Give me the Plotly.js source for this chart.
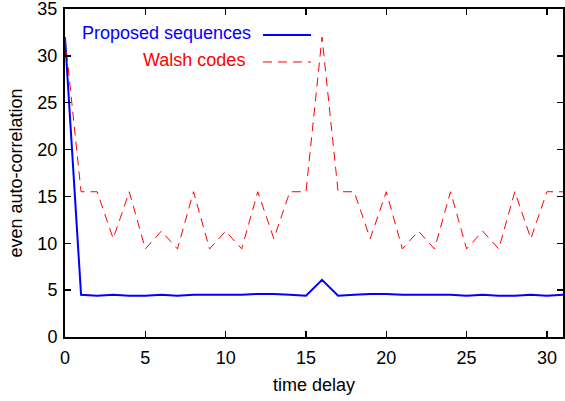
<!DOCTYPE html>
<html>
<head>
<meta charset="utf-8">
<script src="https://cdn.plot.ly/plotly-3.0.1.min.js"></script>
<style>html,body{margin:0;padding:0;background:#fff;}#chart{width:565px;height:401px;}</style>
</head>
<body>
<div id="chart"></div>
<script>
const delays = [0,1,2,3,4,5,6,7,8,9,10,11,12,13,14,15,16,17,18,19,20,21,22,23,24,25,26,27,28,29,30,31];
const proposed = [32,4.5,4.4,4.5,4.4,4.4,4.5,4.4,4.5,4.5,4.5,4.5,4.6,4.6,4.5,4.4,6.1,4.4,4.5,4.6,4.6,4.5,4.5,4.5,4.5,4.4,4.5,4.4,4.4,4.5,4.4,4.5];
const walsh = [32,15.5,15.5,10.5,15.5,9.4,11.3,9.4,15.5,9.4,11.3,9.4,15.5,10.5,15.5,15.5,32,15.5,15.5,10.5,15.5,9.4,11.3,9.4,15.5,9.4,11.3,9.4,15.5,10.5,15.5,15.5];
const seriesNames = ["Proposed sequences", "Walsh codes"];
const xTicks = [0,5,10,15,20,25,30];
const yTicks = [0,5,10,15,20,25,30,35];

const font = {family: "Liberation Sans, Arial, sans-serif", size: 18, color: "#000"};

const traces = [
  {x: delays, y: proposed, mode: "lines", name: seriesNames[0], line: {color: "#0000ff", width: 2}},
  {x: delays, y: walsh, mode: "lines", name: seriesNames[1], line: {color: "#ff0000", width: 1, dash: "9px,6px"}}
];

const axisCommon = {
  showline: true, mirror: "ticks", linecolor: "#000", linewidth: 2,
  ticks: "inside", ticklen: 6, tickwidth: 1.5, tickcolor: "#000",
  showgrid: false, zeroline: false, tickfont: font, ticklabeloverflow: "allow"
};

const layout = {
  width: 565, height: 401,
  margin: {l: 65, r: 2, t: 9, b: 64},
  paper_bgcolor: "#fff", plot_bgcolor: "#fff",
  showlegend: false,
  font: font,
  xaxis: Object.assign({}, axisCommon, {range: [0, 31], tickvals: xTicks, ticktext: xTicks.map(String),
    ticklabelstandoff: 3,
    title: {text: "time delay", font: font, standoff: 12}}),
  yaxis: Object.assign({}, axisCommon, {range: [0, 35], tickvals: yTicks, ticktext: yTicks.map(String),
    ticklabelstandoff: 2,
    title: {text: "even auto-correlation", font: font, standoff: 10}}),
  annotations: [
    {xref: "paper", yref: "paper", x: 0.3775, y: 0.927, xanchor: "right", yanchor: "middle",
     text: seriesNames[0], showarrow: false, font: {family: font.family, size: 18, color: "#0000ff"}},
    {xref: "paper", yref: "paper", x: 0.3655, y: 0.844, xanchor: "right", yanchor: "middle",
     text: seriesNames[1], showarrow: false, font: {family: font.family, size: 18, color: "#ff0000"}}
  ],
  shapes: [
    {type: "line", xref: "paper", yref: "paper", x0: 0.3976, x1: 0.494, y0: 0.921, y1: 0.921,
     line: {color: "#0000ff", width: 2}},
    {type: "line", xref: "paper", yref: "paper", x0: 0.3976, x1: 0.494, y0: 0.8385, y1: 0.8385,
     line: {color: "#ff0000", width: 1, dash: "9px,6px"}}
  ]
};

Plotly.newPlot("chart", traces, layout, {staticPlot: true, displayModeBar: false});
</script>
</body>
</html>
